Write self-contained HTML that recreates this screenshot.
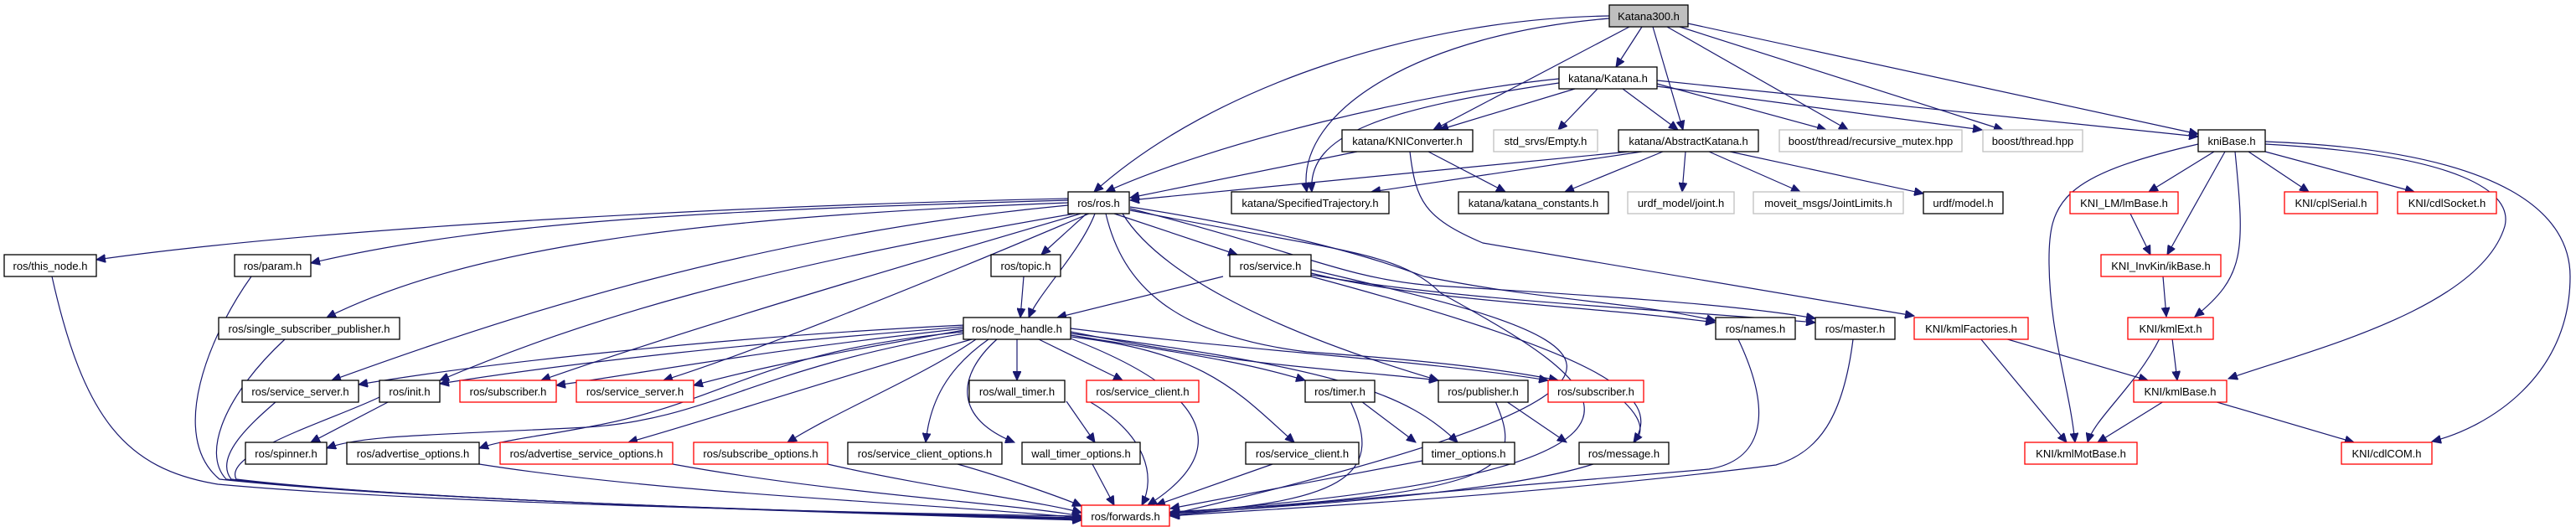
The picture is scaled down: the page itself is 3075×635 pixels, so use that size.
<!DOCTYPE html>
<html><head><meta charset="utf-8"><style>
html,body{margin:0;padding:0;background:#fff;}
svg{display:block;}
text{font-family:"Liberation Sans",Arial,sans-serif;font-size:13px;fill:#000;}
.n{fill:#fff;stroke:#000;stroke-width:1.3;}
.g{fill:#fff;stroke:#bfbfbf;stroke-width:1.3;}
.r{fill:#fff;stroke:#ff0000;stroke-width:1.3;}
.e path{fill:none;stroke:#191970;stroke-width:1.2;marker-end:url(#a);}
</style></head><body>
<svg width="3075" height="635" viewBox="0 0 3075 635" xmlns="http://www.w3.org/2000/svg">
<defs><marker id="a" markerUnits="userSpaceOnUse" markerWidth="12" markerHeight="10" refX="11" refY="5" orient="auto"><path d="M0,0 L11,5 L0,10 Z" fill="#191970" stroke="#191970"/></marker></defs>
<g class="e">
<path d="M1921,19 C1700,22 1450,100 1306,229"/>
<path d="M1921,22 C1700,40 1545,130 1560,229"/>
<path d="M1945,32 L1711,155"/>
<path d="M1960,32 L1929,80"/>
<path d="M1973,32 L2009,155"/>
<path d="M1990,32 L2206,155"/>
<path d="M2005,32 L2391,155"/>
<path d="M2015,28 L2624,160"/>
<path d="M1861,94 C1700,110 1450,170 1320,229"/>
<path d="M1861,99 C1650,130 1560,160 1566,229"/>
<path d="M1880,106 L1718,155"/>
<path d="M1907,106 L1860,155"/>
<path d="M1937,106 L2003,155"/>
<path d="M1978,100 L2180,155"/>
<path d="M1978,103 L2366,155"/>
<path d="M1978,96 L2624,163"/>
<path d="M1620,181 L1349,236"/>
<path d="M1705,181 L1797,229"/>
<path d="M1683,181 C1690,240 1700,260 1770,290 L2285,377"/>
<path d="M1945,181 L1349,239"/>
<path d="M1960,181 L1637,229"/>
<path d="M1985,181 L1868,229"/>
<path d="M2012,181 L2008,229"/>
<path d="M2040,181 L2149,229"/>
<path d="M2065,181 L2296,231"/>
<path d="M2643,181 L2565,229"/>
<path d="M2656,181 L2587,304"/>
<path d="M2668,181 C2680,300 2680,330 2620,378"/>
<path d="M2684,181 L2756,229"/>
<path d="M2704,181 L2882,229"/>
<path d="M2624,172 C2460,210 2445,240 2446,315 C2447,400 2470,460 2477,528"/>
<path d="M2704,172 C2940,185 3000,230 2990,270 C2960,370 2750,420 2660,452"/>
<path d="M2704,169 C3000,180 3068,260 3068,330 C3068,450 2970,510 2903,527"/>
<path d="M2543,255 L2567,304"/>
<path d="M2582,330 L2586,378"/>
<path d="M2593,404 L2599,454"/>
<path d="M2578,404 C2550,460 2500,500 2492,528"/>
<path d="M2393,404 L2564,454"/>
<path d="M2364,404 L2467,528"/>
<path d="M2583,479 L2504,528"/>
<path d="M2643,479 L2810,528"/>
<path d="M1275,237 C900,245 400,270 115,310"/>
<path d="M1275,239 C900,250 600,260 371,314"/>
<path d="M1275,242 C800,260 550,300 390,379"/>
<path d="M1275,245 C900,280 600,380 396,454"/>
<path d="M1283,255 C900,320 700,380 525,454"/>
<path d="M1290,255 C1000,340 800,400 646,454"/>
<path d="M1300,255 C1100,340 900,420 792,454"/>
<path d="M1297,255 L1243,304"/>
<path d="M1307,255 C1290,300 1240,350 1228,379"/>
<path d="M1330,255 L1477,304"/>
<path d="M1320,255 C1340,340 1400,400 1560,420 C1700,430 1790,440 1860,454"/>
<path d="M1340,255 C1380,320 1500,390 1717,454"/>
<path d="M1349,247 C1500,270 1620,300 1700,330 C1850,360 1950,360 2048,383"/>
<path d="M1349,249 C1550,300 1600,330 1700,340 C1850,350 2050,360 2167,380"/>
<path d="M1349,251 C1600,300 1670,300 1720,350 C1900,450 2100,560 1397,612"/>
<path d="M1151,388 C900,400 600,430 428,459"/>
<path d="M1151,390 C900,410 700,430 525,458"/>
<path d="M1151,392 C900,420 800,440 664,460"/>
<path d="M1151,394 C1000,420 900,440 828,460"/>
<path d="M1151,396 C900,420 870,480 700,510 C500,520 430,520 390,535"/>
<path d="M1151,398 C900,440 850,500 700,510 C650,520 600,525 572,535"/>
<path d="M1160,405 C1000,450 850,500 750,528"/>
<path d="M1165,405 C1100,450 1000,490 940,528"/>
<path d="M1180,405 C1130,440 1110,480 1105,528"/>
<path d="M1190,405 C1140,450 1140,500 1211,528"/>
<path d="M1214,405 L1214,454"/>
<path d="M1240,405 L1340,454"/>
<path d="M1278,400 C1400,420 1480,430 1558,454"/>
<path d="M1278,396 C1500,440 1600,440 1717,454"/>
<path d="M1278,392 C1500,420 1700,430 1848,454"/>
<path d="M1278,402 C1440,420 1480,470 1545,528"/>
<path d="M1278,398 C1600,440 1680,470 1740,528"/>
<path d="M1278,404 C1450,470 1470,540 1370,603"/>
<path d="M1222,330 L1218,379"/>
<path d="M1460,330 L1262,379"/>
<path d="M1565,326 C1700,360 1900,365 2047,385"/>
<path d="M1565,328 C1750,360 2000,370 2167,385"/>
<path d="M1565,330 C1900,420 1990,470 1950,528"/>
<path d="M1565,322 C1900,400 2100,450 1397,614"/>
<path d="M62,330 C100,500 150,560 260,578 C500,600 1000,612 1291,616"/>
<path d="M300,330 C250,400 200,520 262,572 C500,598 1000,612 1291,618"/>
<path d="M340,405 C270,470 240,540 270,572 C500,598 1000,612 1291,619"/>
<path d="M330,479 C300,505 255,545 276,572 C500,598 1000,612 1291,620"/>
<path d="M453,474 C400,500 265,540 282,572 C500,598 1000,612 1291,621"/>
<path d="M465,479 L371,528"/>
<path d="M572,554 C800,590 1100,600 1291,618"/>
<path d="M803,554 C1000,590 1200,600 1291,616"/>
<path d="M988,554 C1100,580 1250,600 1291,612"/>
<path d="M1143,554 C1200,570 1270,595 1291,604"/>
<path d="M1300,479 C1370,520 1380,570 1363,603"/>
<path d="M1304,554 L1330,603"/>
<path d="M1273,479 L1307,528"/>
<path d="M1519,554 L1380,603"/>
<path d="M1612,479 C1650,560 1620,600 1397,612"/>
<path d="M1625,479 L1690,528"/>
<path d="M1698,550 L1397,607"/>
<path d="M1785,479 C1820,560 1800,590 1397,611"/>
<path d="M1798,479 L1870,528"/>
<path d="M1938,479 C1990,530 1980,580 1397,613"/>
<path d="M2075,405 C2120,500 2100,550 2040,560 C1700,590 1500,605 1397,615"/>
<path d="M2212,405 C2200,500 2170,540 2120,555 C1800,595 1500,608 1397,616"/>
</g>
<rect x="1921" y="6" width="94" height="26" fill="#bfbfbf" stroke="#000" stroke-width="1.3"/><text x="1968" y="24" text-anchor="middle">Katana300.h</text>
<rect class="n" x="1861" y="80" width="117" height="26"/><text x="1919.5" y="98" text-anchor="middle">katana/Katana.h</text>
<rect class="n" x="1602" y="155" width="156" height="26"/><text x="1680" y="173" text-anchor="middle">katana/KNIConverter.h</text>
<rect class="g" x="1783" y="155" width="124" height="26"/><text x="1845" y="173" text-anchor="middle">std_srvs/Empty.h</text>
<rect class="n" x="1932" y="155" width="167" height="26"/><text x="2015.5" y="173" text-anchor="middle">katana/AbstractKatana.h</text>
<rect class="g" x="2124" y="155" width="218" height="26"/><text x="2233" y="173" text-anchor="middle">boost/thread/recursive_mutex.hpp</text>
<rect class="g" x="2367" y="155" width="119" height="26"/><text x="2426.5" y="173" text-anchor="middle">boost/thread.hpp</text>
<rect class="n" x="2624" y="155" width="80" height="26"/><text x="2664" y="173" text-anchor="middle">kniBase.h</text>
<rect class="n" x="1275" y="229" width="73" height="26"/><text x="1311.5" y="247" text-anchor="middle">ros/ros.h</text>
<rect class="n" x="1470" y="229" width="188" height="26"/><text x="1564" y="247" text-anchor="middle">katana/SpecifiedTrajectory.h</text>
<rect class="n" x="1741" y="229" width="179" height="26"/><text x="1830.5" y="247" text-anchor="middle">katana/katana_constants.h</text>
<rect class="g" x="1943" y="229" width="127" height="26"/><text x="2006.5" y="247" text-anchor="middle">urdf_model/joint.h</text>
<rect class="g" x="2093" y="229" width="179" height="26"/><text x="2182.5" y="247" text-anchor="middle">moveit_msgs/JointLimits.h</text>
<rect class="n" x="2296" y="229" width="95" height="26"/><text x="2343.5" y="247" text-anchor="middle">urdf/model.h</text>
<rect class="r" x="2471" y="229" width="129" height="26"/><text x="2535.5" y="247" text-anchor="middle">KNI_LM/lmBase.h</text>
<rect class="r" x="2727" y="229" width="111" height="26"/><text x="2782.5" y="247" text-anchor="middle">KNI/cplSerial.h</text>
<rect class="r" x="2862" y="229" width="118" height="26"/><text x="2921" y="247" text-anchor="middle">KNI/cdlSocket.h</text>
<rect class="n" x="5" y="304" width="110" height="26"/><text x="60" y="322" text-anchor="middle">ros/this_node.h</text>
<rect class="n" x="280" y="304" width="91" height="26"/><text x="325.5" y="322" text-anchor="middle">ros/param.h</text>
<rect class="n" x="1183" y="304" width="83" height="26"/><text x="1224.5" y="322" text-anchor="middle">ros/topic.h</text>
<rect class="n" x="1468" y="304" width="97" height="26"/><text x="1516.5" y="322" text-anchor="middle">ros/service.h</text>
<rect class="r" x="2508" y="304" width="143" height="26"/><text x="2579.5" y="322" text-anchor="middle">KNI_InvKin/ikBase.h</text>
<rect class="n" x="261" y="379" width="216" height="26"/><text x="369" y="397" text-anchor="middle">ros/single_subscriber_publisher.h</text>
<rect class="n" x="1150" y="379" width="128" height="26"/><text x="1214" y="397" text-anchor="middle">ros/node_handle.h</text>
<rect class="n" x="2048" y="379" width="95" height="26"/><text x="2095.5" y="397" text-anchor="middle">ros/names.h</text>
<rect class="n" x="2167" y="379" width="95" height="26"/><text x="2214.5" y="397" text-anchor="middle">ros/master.h</text>
<rect class="r" x="2285" y="379" width="136" height="26"/><text x="2353" y="397" text-anchor="middle">KNI/kmlFactories.h</text>
<rect class="r" x="2540" y="379" width="102" height="26"/><text x="2591" y="397" text-anchor="middle">KNI/kmlExt.h</text>
<rect class="n" x="289" y="454" width="139" height="26"/><text x="358.5" y="472" text-anchor="middle">ros/service_server.h</text>
<rect class="n" x="453" y="454" width="72" height="26"/><text x="489" y="472" text-anchor="middle">ros/init.h</text>
<rect class="r" x="549" y="454" width="115" height="26"/><text x="606.5" y="472" text-anchor="middle">ros/subscriber.h</text>
<rect class="r" x="688" y="454" width="140" height="26"/><text x="758" y="472" text-anchor="middle">ros/service_server.h</text>
<rect class="n" x="1157" y="454" width="114" height="26"/><text x="1214" y="472" text-anchor="middle">ros/wall_timer.h</text>
<rect class="r" x="1297" y="454" width="134" height="26"/><text x="1364" y="472" text-anchor="middle">ros/service_client.h</text>
<rect class="n" x="1558" y="454" width="83" height="26"/><text x="1599.5" y="472" text-anchor="middle">ros/timer.h</text>
<rect class="n" x="1717" y="454" width="107" height="26"/><text x="1770.5" y="472" text-anchor="middle">ros/publisher.h</text>
<rect class="r" x="1848" y="454" width="114" height="26"/><text x="1905" y="472" text-anchor="middle">ros/subscriber.h</text>
<rect class="r" x="2547" y="454" width="111" height="26"/><text x="2602.5" y="472" text-anchor="middle">KNI/kmlBase.h</text>
<rect class="n" x="293" y="528" width="97" height="26"/><text x="341.5" y="546" text-anchor="middle">ros/spinner.h</text>
<rect class="n" x="414" y="528" width="158" height="26"/><text x="493" y="546" text-anchor="middle">ros/advertise_options.h</text>
<rect class="r" x="597" y="528" width="206" height="26"/><text x="700" y="546" text-anchor="middle">ros/advertise_service_options.h</text>
<rect class="r" x="828" y="528" width="160" height="26"/><text x="908" y="546" text-anchor="middle">ros/subscribe_options.h</text>
<rect class="n" x="1012" y="528" width="184" height="26"/><text x="1104" y="546" text-anchor="middle">ros/service_client_options.h</text>
<rect class="n" x="1220" y="528" width="141" height="26"/><text x="1290.5" y="546" text-anchor="middle">wall_timer_options.h</text>
<rect class="n" x="1487" y="528" width="135" height="26"/><text x="1554.5" y="546" text-anchor="middle">ros/service_client.h</text>
<rect class="n" x="1698" y="528" width="110" height="26"/><text x="1753" y="546" text-anchor="middle">timer_options.h</text>
<rect class="n" x="1885" y="528" width="107" height="26"/><text x="1938.5" y="546" text-anchor="middle">ros/message.h</text>
<rect class="r" x="2417" y="528" width="134" height="26"/><text x="2484" y="546" text-anchor="middle">KNI/kmlMotBase.h</text>
<rect class="r" x="2795" y="528" width="108" height="26"/><text x="2849" y="546" text-anchor="middle">KNI/cdlCOM.h</text>
<rect class="r" x="1291" y="603" width="105" height="25"/><text x="1343.5" y="621" text-anchor="middle">ros/forwards.h</text>
</svg>
</body></html>
